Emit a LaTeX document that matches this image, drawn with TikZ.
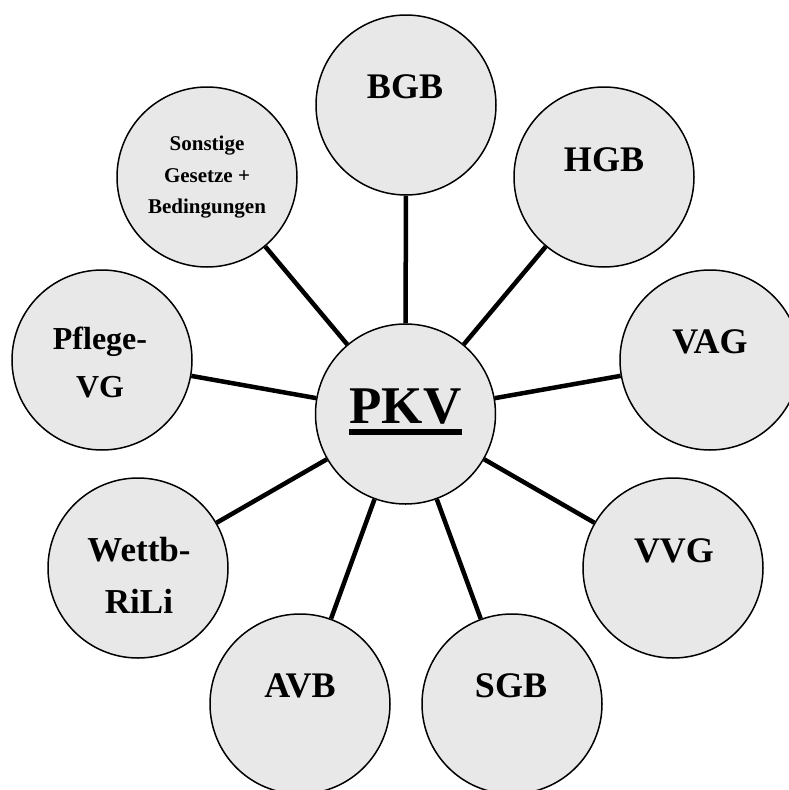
\documentclass[tikz,border=0pt]{standalone}
\usepackage{fontspec}
\setmainfont{Liberation Serif}
\definecolor{bubblegray}{HTML}{E8E8E8}
\begin{document}
\begin{tikzpicture}[x=1pt,y=-1pt,
  bubble/.style={circle, draw=black, line width=1.5pt, fill=bubblegray, minimum size=180pt, inner sep=0pt},
  conn/.style={line width=4.5pt, draw=black},
  lbl/.style={anchor=base, inner sep=0pt, font=\bfseries\fontsize{36}{40}\selectfont},
  lblmid/.style={lbl, font=\bfseries\fontsize{35}{40}\selectfont},
  lblpf/.style={lbl, font=\bfseries\fontsize{32}{36}\selectfont},
  lblsm/.style={lbl, font=\bfseries\fontsize{21}{24}\selectfont},
  lblbig/.style={lbl, font=\bfseries\fontsize{53}{60}\selectfont}]
\useasboundingbox (0,0) rectangle (788,790);

% circles
\node[bubble] (pkv)  at (405.5,414) {};
\node[bubble] (bgb)  at (406,105) {};
\node[bubble] (hgb)  at (604,177) {};
\node[bubble] (vag)  at (710,360) {};
\node[bubble] (vvg)  at (673,568) {};
\node[bubble] (sgb)  at (512,704) {};
\node[bubble] (avb)  at (300,704) {};
\node[bubble] (wett) at (138,568) {};
\node[bubble] (pfl)  at (102,360) {};
\node[bubble] (son)  at (207,177) {};

% connectors
\foreach \t in {bgb,hgb,vag,vvg,sgb,avb,wett,pfl,son}
  \draw[conn] (pkv) -- (\t);

% labels
\node[lblbig] (tpkv) at (405.5,423) {PKV};
\draw[line width=6pt] ([yshift=-9pt]tpkv.base west) -- ([yshift=-9pt]tpkv.base east);
\node[lbl] (tbgb) at (405,98) {BGB};
\node[lbl] (thgb) at (604,171) {HGB};
\node[lbl] (tvag) at (710,353) {VAG};
\node[lbl] (tvvg) at (674,562) {VVG};
\node[lbl] (tsgb) at (511,697) {SGB};
\node[lbl] (tavb) at (300,697) {AVB};
\node[lblmid] (twett1) at (139,561) {Wettb-};
\node[lblmid] (twett2) at (139,613) {RiLi};
\node[lblpf] (tpfl1) at (100,349) {Pflege-};
\node[lblpf] (tpfl2) at (100,397) {VG};
\node[lblsm] (tson1) at (207,150) {Sonstige};
\node[lblsm] (tson2) at (207,182) {Gesetze +};
\node[lblsm] (tson3) at (207,213) {Bedingungen};
\end{tikzpicture}
\end{document}
